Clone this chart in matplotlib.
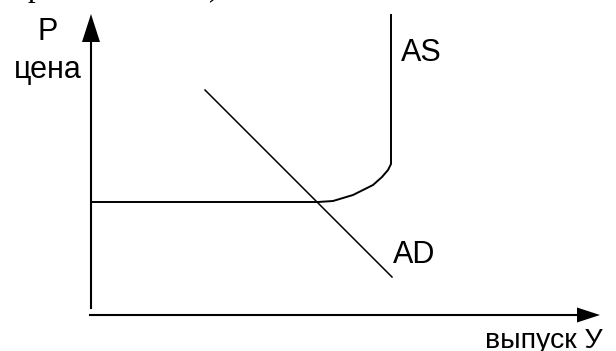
import matplotlib.pyplot as plt

# schematic in pixel space of the picture (y grows downward)
W, H = 616, 351

# axes
y_axis_x = 91
y_axis_y = [308, 14]
x_axis_y = 315
x_axis_x = [90, 600]

# AS curve: flat part, bend, vertical part
as_x = [91, 318, 333, 343, 353, 363, 373, 382, 388, 391, 391]
as_y = [202, 202, 201, 198, 195, 190, 185, 177, 170, 164, 15]

# AD line
ad_x = [205, 392]
ad_y = [90, 277]

fig = plt.figure(figsize=(W / 100, H / 100), dpi=100)
ax = fig.add_axes([0, 0, 1, 1])
ax.set_xlim(0, W)
ax.set_ylim(H, 0)
ax.axis('off')

# y axis with arrow head
ax.plot([y_axis_x, y_axis_x], [y_axis_y[0], y_axis_y[1] + 20], color='black', lw=1.5)
tip = y_axis_y[1]
ax.fill([y_axis_x - 9, y_axis_x, y_axis_x + 9], [tip + 28, tip, tip + 28], color='black', lw=0)

# x axis with arrow head
ax.plot([x_axis_x[0], x_axis_x[1] - 15], [x_axis_y, x_axis_y], color='black', lw=1.5)
tip = x_axis_x[1]
ax.fill([tip - 23, tip, tip - 23], [x_axis_y - 7.5, x_axis_y, x_axis_y + 7.5], color='black', lw=0)

ax.plot(as_x, as_y, color='black', lw=1.4, solid_joinstyle='round')
ax.plot(ad_x, ad_y, color='black', lw=1.1)

font = dict(family='Liberation Sans', fontsize=22, color='black', va='baseline')
ax.text(37, 40, 'P', **font)
ax.text(14, 78, 'цена', **font)
ax.text(401, 61, 'AS', **font)
ax.text(393, 263, 'AD', **font)
ax.text(485, 348, 'выпуск У', family='Liberation Sans', fontsize=20.5,
        color='black', va='baseline')

# clipped line of text above the picture
serif = dict(family='Liberation Serif', fontsize=22, color='black', va='baseline')
ax.text(28, -4, 'р', **serif)
ax.text(208, -5, ')', **serif)

fig.savefig('out.png', dpi=100)
